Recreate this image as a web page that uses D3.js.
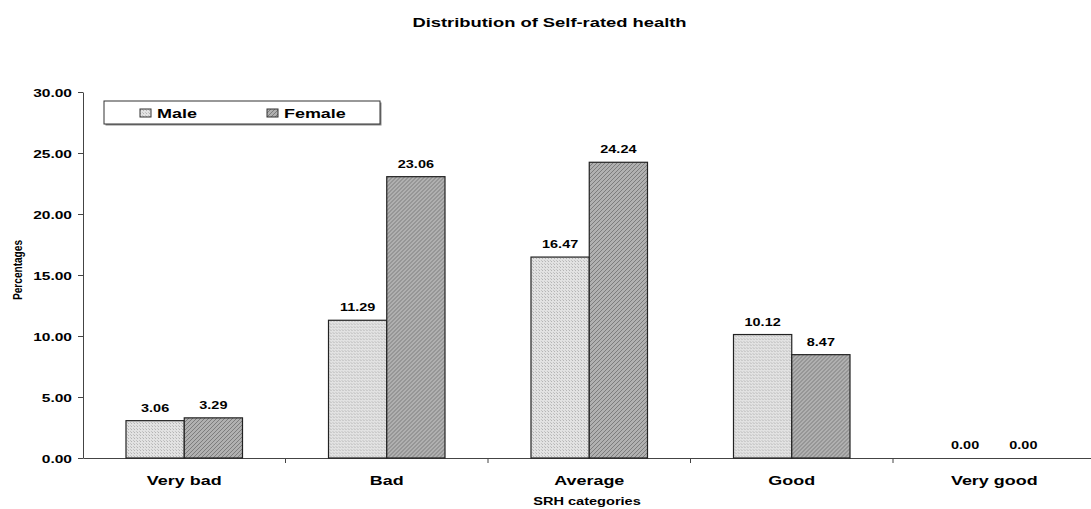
<!DOCTYPE html>
<html>
<head>
<meta charset="utf-8">
<script src="https://cdnjs.cloudflare.com/ajax/libs/d3/7.8.5/d3.min.js"></script>
<style>
  body { margin: 0; background: #fff; }
  text { font-family: "Liberation Sans", Arial, sans-serif; font-weight: bold; fill: #000; }
</style>
</head>
<body>
<div id="chart"></div>
<script>
// data
const categories = ["Very bad", "Bad", "Average", "Good", "Very good"]
const series = ["Male", "Female"]
const male = [3.06, 11.29, 16.47, 10.12, 0.00]
const female = [3.29, 23.06, 24.24, 8.47, 0.00]
const yTicks = [0, 5, 10, 15, 20, 25, 30]

const width = 1091, height = 509
const mLeft = 83, mTop = 92, mBottom = 458
const band = 202.5
const SX = 1.35 // the original picture is stretched sideways, text looks wide

const svg = d3.select("#chart").append("svg")
  .attr("width", width).attr("height", height)

// patterns for the bars
const defs = svg.append("defs")
const pm = defs.append("pattern").attr("id", "pMale")
  .attr("patternUnits", "userSpaceOnUse").attr("width", 3).attr("height", 3)
pm.append("rect").attr("width", 3).attr("height", 3).attr("fill", "#e2e2e2")
pm.append("rect").attr("width", 1).attr("height", 1).attr("fill", "#b4b4b4")
pm.append("rect").attr("x", 2).attr("y", 2).attr("width", 1).attr("height", 1).attr("fill", "#c4c4c4")

const pf = defs.append("pattern").attr("id", "pFemale")
  .attr("patternUnits", "userSpaceOnUse").attr("width", 4).attr("height", 4)
pf.append("rect").attr("width", 4).attr("height", 4).attr("fill", "#b0b0b0")
pf.append("path").attr("d", "M0,4 L4,0 M-1,1 L1,-1 M3,5 L5,3")
  .attr("stroke", "#7c7c7c").attr("stroke-width", 1)

const fills = { Male: "url(#pMale)", Female: "url(#pFemale)" }

const xScale = d3.scaleBand()
  .domain(categories)
  .range([mLeft, mLeft + band * 5])

const xInner = d3.scaleBand()
  .domain(series)
  .range([43, band - 43])

const yScale = d3.scaleLinear()
  .domain([0, 30])
  .range([mBottom, mTop])

// helper for wide text
function wideText(parent, x, y, size, anchor, str) {
  return parent.append("text")
    .attr("transform", `translate(${x},${y}) scale(${SX},1)`)
    .attr("text-anchor", anchor)
    .attr("font-size", size)
    .text(str)
}

// title
wideText(svg, 549.5, 27, 13.6, "middle", "Distribution of Self-rated health")

// axes
const yAxis = d3.axisLeft(yScale)
  .tickValues(yTicks)
  .tickFormat(d3.format(".2f"))
  .tickSize(5)
  .tickSizeOuter(0)

svg.append("g")
  .attr("transform", `translate(${mLeft},0)`)
  .call(yAxis)
  .call(g => g.select(".domain").attr("stroke", "#444"))
  .call(g => g.selectAll(".tick line").attr("stroke", "#444"))
  .call(g => g.selectAll(".tick text")
    .attr("font-size", 11.5)
    .attr("font-family", null)
    .attr("fill", "#000")
    .attr("transform", `translate(-11,0) scale(${SX},1)`)
    .attr("x", 0).attr("dy", "0.4em"))

const xAxis = d3.axisBottom(xScale).tickSize(0).tickSizeOuter(0)
svg.append("g")
  .attr("transform", `translate(0,${mBottom})`)
  .call(xAxis)
  .call(g => g.select(".domain").attr("stroke", "#444"))
  .call(g => g.selectAll(".tick text")
    .attr("font-size", 13.3)
    .attr("font-family", null)
    .attr("fill", "#000")
    .attr("transform", `translate(0,27) scale(${SX},1)`)
    .attr("y", 0).attr("dy", 0))

// category separator ticks
svg.append("g").selectAll("line")
  .data(categories.slice(1))
  .join("line")
    .attr("x1", d => xScale(d)).attr("x2", d => xScale(d))
    .attr("y1", mBottom).attr("y2", mBottom + 5)
    .attr("stroke", "#444")

// axis titles
wideText(svg, 587, 505, 10.8, "middle", "SRH categories")

svg.append("text")
  .attr("transform", `translate(22,270) rotate(-90) scale(1,${SX})`)
  .attr("text-anchor", "middle")
  .attr("font-size", 10)
  .attr("textLength", 60).attr("lengthAdjust", "spacingAndGlyphs")
  .text("Percentages")

// bars
const rows = categories.map((c, i) => ({ cat: c, Male: male[i], Female: female[i] }))

const groups = svg.append("g").selectAll("g")
  .data(rows)
  .join("g")
    .attr("transform", d => `translate(${xScale(d.cat)},0)`)

groups.selectAll("rect")
  .data(d => series.map(s => ({ s, v: d[s] })).filter(e => e.v > 0))
  .join("rect")
    .attr("x", d => xInner(d.s))
    .attr("y", d => yScale(d.v))
    .attr("width", xInner.bandwidth())
    .attr("height", d => mBottom - yScale(d.v))
    .attr("fill", d => fills[d.s])
    .attr("stroke", "#222")
    .attr("stroke-width", 1.2)

groups.selectAll("text")
  .data(d => series.map(s => ({ s, v: d[s] })))
  .join("text")
    .attr("transform", d => `translate(${xInner(d.s) + xInner.bandwidth() / 2},${yScale(d.v) - 9}) scale(${SX},1)`)
    .attr("text-anchor", "middle")
    .attr("font-size", 10.7)
    .text(d => d3.format(".2f")(d.v))

// legend
const legend = svg.append("g").attr("transform", "translate(104,101)")
legend.append("rect")
  .attr("x", 1.5).attr("y", 1.5).attr("width", 276).attr("height", 23)
  .attr("fill", "#888")
legend.append("rect")
  .attr("x", 0).attr("y", 0).attr("width", 276).attr("height", 23)
  .attr("fill", "#fff").attr("stroke", "#333").attr("stroke-width", 1)

const legendX = d3.scaleOrdinal().domain(series).range([36, 163])
const li = legend.selectAll(".li")
  .data(series)
  .join("g")
    .attr("transform", d => `translate(${legendX(d)},0)`)
li.append("rect")
  .attr("x", 0).attr("y", 8).attr("width", 11).attr("height", 8)
  .attr("fill", d => fills[d]).attr("stroke", "#333")
li.append("text")
  .attr("transform", `translate(17,17) scale(${SX},1)`)
  .attr("font-size", 13.3)
  .text(d => d)
</script>
</body>
</html>
